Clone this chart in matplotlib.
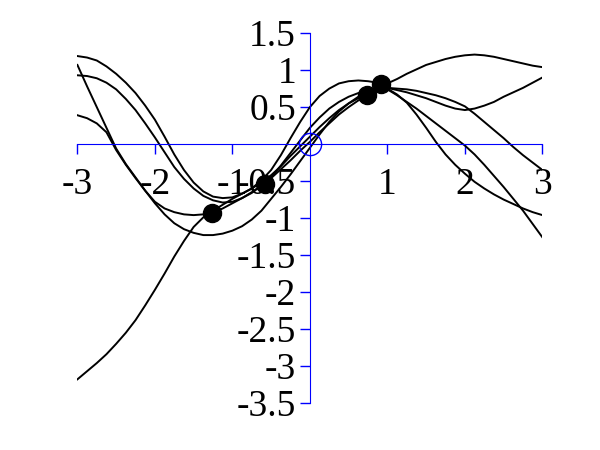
import matplotlib
matplotlib.use("Agg")
import matplotlib.pyplot as plt

x_grid = [-3, -2.875, -2.75, -2.625, -2.5, -2.375, -2.25, -2.125,
          -2, -1.875, -1.75, -1.625, -1.5, -1.375, -1.25, -1.125,
          -1, -0.875, -0.75, -0.625, -0.5, -0.375, -0.25, -0.125,
          0, 0.125, 0.25, 0.375, 0.5, 0.625, 0.75, 0.875,
          1, 1.125, 1.25, 1.375, 1.5, 1.625, 1.75, 1.875,
          2, 2.125, 2.25, 2.375, 2.5, 2.625, 2.75, 2.875, 3]

curva_1 = [1.19, 1.17, 1.13, 1.05, 0.95, 0.83, 0.69, 0.52,
           0.33, 0.10, -0.14, -0.35, -0.52, -0.64, -0.71, -0.73,
           -0.72, -0.67, -0.60, -0.49, -0.35, -0.15, 0.08, 0.30,
           0.50, 0.65, 0.75, 0.82, 0.85, 0.86, 0.85, 0.83,
           0.82, 0.88, 0.95, 1.01, 1.07, 1.11, 1.15, 1.18,
           1.20, 1.21, 1.20, 1.18, 1.15, 1.12, 1.09, 1.06, 1.04]
curva_2 = [0.93, 0.92, 0.89, 0.83, 0.74, 0.61, 0.46, 0.28,
           0.09, -0.11, -0.31, -0.47, -0.60, -0.70, -0.76, -0.79,
           -0.78, -0.73, -0.66, -0.56, -0.45, -0.29, -0.12, 0.05,
           0.22, 0.36, 0.48, 0.57, 0.64, 0.69, 0.72, 0.75,
           0.76, 0.73, 0.70, 0.66, 0.62, 0.57, 0.52, 0.48,
           0.46, 0.48, 0.52, 0.57, 0.64, 0.70, 0.76, 0.83, 0.90]
curva_3 = [1.07, 0.78, 0.50, 0.22, -0.06, -0.27, -0.45, -0.63,
           -0.80, -0.95, -1.07, -1.15, -1.20, -1.23, -1.23, -1.21,
           -1.17, -1.11, -1.02, -0.90, -0.74, -0.58, -0.41, -0.23,
           -0.05, 0.13, 0.30, 0.44, 0.55, 0.64, 0.70, 0.74,
           0.75, 0.67, 0.56, 0.40, 0.22, 0.03, -0.14, -0.28,
           -0.40, -0.51, -0.60, -0.68, -0.75, -0.81, -0.87, -0.92, -0.96]
curva_4 = [0.39, 0.35, 0.28, 0.16, -0.08, -0.28, -0.46, -0.63,
           -0.78, -0.87, -0.92, -0.95, -0.96, -0.95, -0.93, -0.87,
           -0.80, -0.73, -0.65, -0.56, -0.46, -0.34, -0.22, -0.09,
           0.03, 0.16, 0.28, 0.40, 0.50, 0.59, 0.66, 0.72,
           0.76, 0.75, 0.74, 0.72, 0.69, 0.66, 0.62, 0.57,
           0.51, 0.41, 0.30, 0.19, 0.08, -0.04, -0.15, -0.25, -0.35]
curva_5 = [-3.18, -3.07, -2.96, -2.84, -2.70, -2.55, -2.38, -2.18,
           -1.97, -1.75, -1.52, -1.31, -1.12, -0.99, -0.90, -0.82,
           -0.74, -0.67, -0.60, -0.52, -0.42, -0.30, -0.16, -0.03,
           0.10, 0.23, 0.35, 0.46, 0.55, 0.62, 0.68, 0.72,
           0.74, 0.66, 0.57, 0.48, 0.38, 0.28, 0.18, 0.08,
           -0.02, -0.14, -0.28, -0.43, -0.58, -0.74, -0.90, -1.08, -1.26]

# pontos observados (circulos cheios)
pontos_x = [-1.265, -0.58, 0.735, 0.92]
pontos_y = [-0.93, -0.54, 0.66, 0.81]

xticks = [-3, -2, -1, 1, 2, 3]
xtick_labels = ["-3", "-2", "-1", "1", "2", "3"]
yticks = [-3.5, -3, -2.5, -2, -1.5, -1, -0.5, 0.5, 1, 1.5]
ytick_labels = ["-3.5", "-3", "-2.5", "-2", "-1.5", "-1", "-0.5", "0.5", "1", "1.5"]

plt.rcParams['font.family'] = ['Liberation Serif', 'DejaVu Serif']
plt.rcParams['axes.unicode_minus'] = False

fig = plt.figure(figsize=(6, 4.5), dpi=100)
ax = fig.add_axes([0.129, 0.1044, 0.775, 0.822])

for curva in [curva_1, curva_2, curva_3, curva_4, curva_5]:
    ax.plot(x_grid, curva, color='black', linewidth=1.4)

ax.plot(pontos_x, pontos_y, 'o', color='black', markersize=13)
# circulo aberto na origem
ax.plot([0], [0], 'o', markerfacecolor='none', markeredgecolor='blue',
        markersize=16, markeredgewidth=1)

ax.set_xlim(-3, 3)
ax.set_ylim(-3.5, 1.5)

# eixos cruzando na origem, em azul
ax.spines['left'].set_position(('data', 0))
ax.spines['bottom'].set_position(('data', 0))
ax.spines['top'].set_visible(False)
ax.spines['right'].set_visible(False)
ax.spines['left'].set_color('blue')
ax.spines['bottom'].set_color('blue')

ax.set_xticks(xticks)
ax.set_xticklabels(xtick_labels)
ax.set_yticks(yticks)
ax.set_yticklabels(ytick_labels)
ax.tick_params(axis='x', colors='blue', labelcolor='black', length=7, width=1,
               labelsize=27, pad=10)
ax.tick_params(axis='y', colors='blue', labelcolor='black', length=7, width=1,
               labelsize=27, pad=3)

fig.savefig("out.png", dpi=100)
